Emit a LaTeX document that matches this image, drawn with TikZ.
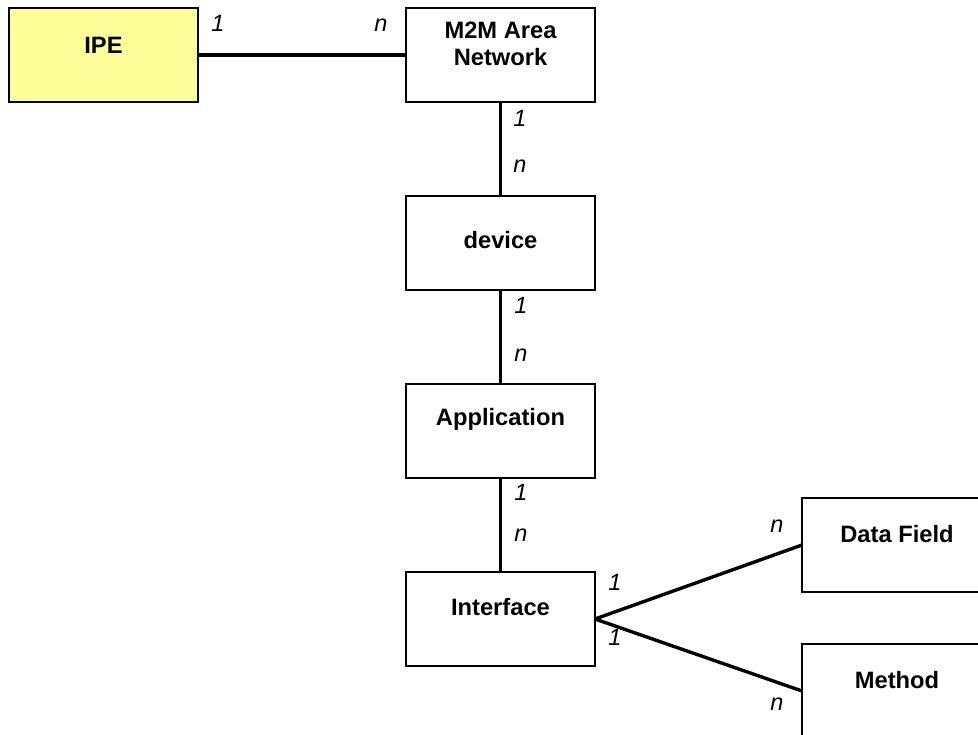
\documentclass[tikz,border=0pt]{standalone}
\usepackage{fontspec}
\setmainfont{Liberation Sans}
\begin{document}
\begin{tikzpicture}[x=1pt,y=-1pt,
  box/.style={draw=black,line width=2pt,fill=white,minimum width=189pt,minimum height=94pt,inner sep=0pt,outer sep=0pt},
  ttl/.style={font=\fontsize{23.7}{27}\selectfont\bfseries,align=center,inner sep=0pt},
  card/.style={font=\fontsize{23.5}{27}\selectfont\itshape,inner sep=0pt},
  conn/.style={line width=3.4pt}]
\useasboundingbox (0,0) rectangle (978,735);
\clip (0,0) rectangle (978,735);
\node[box,fill={rgb,255:red,255;green,255;blue,153}] (ipe) at (103.5,55) {};
\node[box] (m2m) at (500.5,55) {};
\node[box] (dev) at (500.5,243) {};
\node[box] (app) at (500.5,431) {};
\node[box] (intf) at (500.5,619) {};
\node[box] (df) at (896.5,545) {};
\node[box] (meth) at (896.5,691) {};
\node[ttl] (tipe) at (103.5,45) {IPE};
\node[ttl] (tm2m) at (500.5,44) {M2M Area\\Network};
\node[ttl] (tdev) at (500.5,240) {device};
\node[ttl] (tapp) at (500.5,419) {Application};
\node[ttl] (tintf) at (500.5,607) {Interface};
\node[ttl] (tdf) at (897,534) {Data Field};
\node[ttl] (tmeth) at (897,680) {Method};
\draw[conn] (ipe.east) -- (m2m.west);
\draw[conn] (m2m.south) -- (dev.north);
\draw[conn] (dev.south) -- (app.north);
\draw[conn] (app.south) -- (intf.north);
\draw[conn] (intf.east) -- (df.west);
\draw[conn] (intf.east) -- (meth.west);
\node[card] (c1) at (218,23) {1};
\node[card] (c2) at (381,25) {n};
\node[card] (c3) at (520,118) {1};
\node[card] (c4) at (520,166) {n};
\node[card] (c5) at (521,305) {1};
\node[card] (c6) at (521,355) {n};
\node[card] (c7) at (521,492) {1};
\node[card] (c8) at (521,535) {n};
\node[card] (c9) at (615,582) {1};
\node[card] (c10) at (615,637) {1};
\node[card] (c11) at (777,526) {n};
\node[card] (c12) at (777,704) {n};
\end{tikzpicture}
\end{document}
